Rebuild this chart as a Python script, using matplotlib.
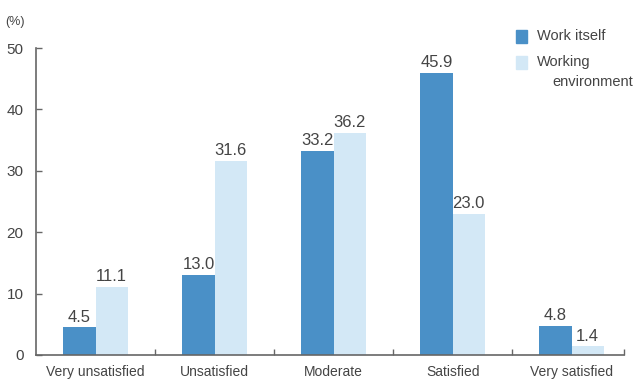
import numpy as np
import matplotlib
matplotlib.use("Agg")
import matplotlib.pyplot as plt

plt.rcParams["font.family"] = ["Liberation Sans", "DejaVu Sans"]

# data
categories = ["Very unsatisfied", "Unsatisfied", "Moderate", "Satisfied", "Very satisfied"]
work_itself = [4.5, 13.0, 33.2, 45.9, 4.8]
working_env = [11.1, 31.6, 36.2, 23.0, 1.4]
series_names = ["Work itself", "Working", "environment"]

dark = "#4a90c7"
light = "#d3e8f6"
txt = "#444444"
axc = "#666666"

fig = plt.figure(figsize=(6.34, 3.83), dpi=100)
ax = fig.add_axes([36 / 634, 28 / 383, 588 / 634, 307 / 383])

x = np.arange(len(categories))
w = 0.27
b1 = ax.bar(x - w / 2, work_itself, w, color=dark)
b2 = ax.bar(x + w / 2, working_env, w, color=light)

for bars, vals in [(b1, work_itself), (b2, working_env)]:
    for r, v in zip(bars, vals):
        ax.annotate(f"{v:.1f}", (r.get_x() + r.get_width() / 2, v),
                    xytext=(0, 2), textcoords="offset points",
                    ha="center", va="bottom", fontsize=12, color=txt)

ax.set_xlim(-0.5, 4.44)
ax.set_ylim(0, 50)
ax.set_yticks([0, 10, 20, 30, 40, 50])
ax.set_xticks(x)
ax.set_xticklabels(categories)
ax.set_xticks(list(x[:-1] + 0.5) + [4.44], minor=True)

ax.tick_params(axis="y", direction="in", length=4, width=1, color=axc,
               labelsize=11, labelcolor=txt, pad=9)
ax.tick_params(axis="x", which="major", length=0, labelsize=10,
               labelcolor=txt, pad=7)
ax.tick_params(axis="x", which="minor", direction="in", length=4, width=1, color=axc)

for s in ["top", "right"]:
    ax.spines[s].set_visible(False)
for s in ["left", "bottom"]:
    ax.spines[s].set_color(axc)
    ax.spines[s].set_linewidth(1.2)

fig.text(5 / 634, 1 - 22 / 383, "(%)", fontsize=9, color=txt, va="center")

# legend drawn by hand
fig.patches.append(plt.Rectangle((516 / 634, 1 - 43 / 383), 11 / 634, 13 / 383,
                                 transform=fig.transFigure, color=dark))
fig.patches.append(plt.Rectangle((516 / 634, 1 - 69 / 383), 11 / 634, 13 / 383,
                                 transform=fig.transFigure, color=light))
fig.text(537 / 634, 1 - 36 / 383, series_names[0], fontsize=10.5, color=txt, va="center")
fig.text(537 / 634, 1 - 62 / 383, series_names[1], fontsize=10.5, color=txt, va="center")
fig.text(552 / 634, 1 - 82 / 383, series_names[2], fontsize=10.5, color=txt, va="center")

fig.savefig("out.png", dpi=100)
